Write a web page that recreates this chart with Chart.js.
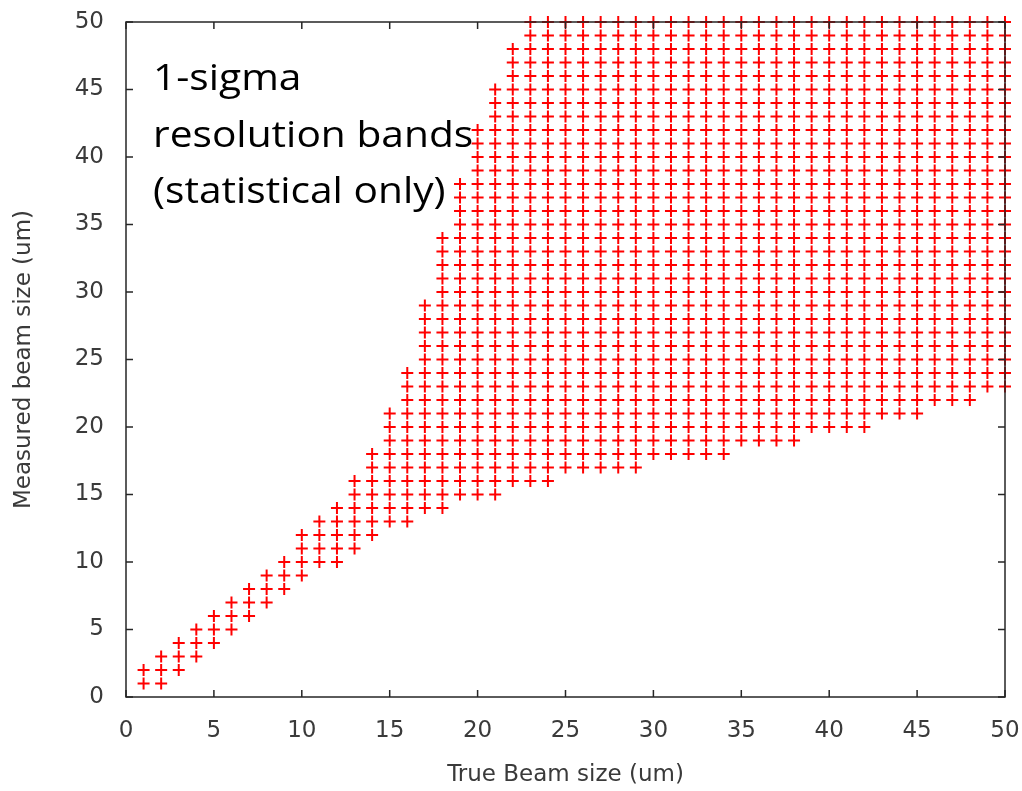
<!DOCTYPE html>
<html lang="en">
<head>
    <meta charset="UTF-8">
    <title>1-sigma resolution bands</title>
    <script src="https://cdn.jsdelivr.net/npm/chart.js"></script>
    <style>
        html, body { margin: 0; padding: 0; background: #fff; }
        #bandChart { display: block; }
    </style>
</head>
<body>
    <canvas id="bandChart" width="1022" height="791"></canvas>

    <script>
        // True beam size (um) for each column of crosses
        const trueSize = [1, 2, 3, 4, 5, 6, 7, 8, 9, 10,
                          11, 12, 13, 14, 15, 16, 17, 18, 19, 20,
                          21, 22, 23, 24, 25, 26, 27, 28, 29, 30,
                          31, 32, 33, 34, 35, 36, 37, 38, 39, 40,
                          41, 42, 43, 44, 45, 46, 47, 48, 49, 50];
        // lowest and highest measured size (um) in each column
        const bandLow  = [1, 1, 2, 3, 4, 5, 6, 7, 8, 9,
                          10, 10, 11, 12, 13, 13, 14, 14, 15, 15,
                          15, 16, 16, 16, 17, 17, 17, 17, 17, 18,
                          18, 18, 18, 18, 19, 19, 19, 19, 20, 20,
                          20, 20, 21, 21, 21, 22, 22, 22, 23, 23];
        const bandHigh = [2, 3, 4, 5, 6, 7, 8, 9, 10, 12,
                          13, 14, 16, 18, 21, 24, 29, 34, 38, 42,
                          45, 48, 50, 50, 50, 50, 50, 50, 50, 50,
                          50, 50, 50, 50, 50, 50, 50, 50, 50, 50,
                          50, 50, 50, 50, 50, 50, 50, 50, 50, 50];
        const axisTicks = [0, 5, 10, 15, 20, 25, 30, 35, 40, 45, 50];
        const noteLines = ['1-sigma', 'resolution bands', '(statistical only)'];

        // one cross per 1 um step inside each band
        const points = [];
        trueSize.forEach((x, i) => {
            for (let y = bandLow[i]; y <= bandHigh[i]; y++) {
                points.push({ x: x, y: y });
            }
        });

        const frameColor = '#262626';
        const textColor = '#3a3a3a';
        const axisFont = { family: 'DejaVu Sans', size: 23 };

        // gnuplot style frame with inward ticks on all four sides, plus the note
        const framePlugin = {
            id: 'frame',
            afterDraw(chart) {
                const ctx = chart.ctx;
                const a = chart.chartArea;
                const xs = chart.scales.x;
                const ys = chart.scales.y;
                const len = 7;
                ctx.save();
                ctx.strokeStyle = frameColor;
                ctx.lineWidth = 1.5;
                ctx.strokeRect(a.left, a.top, a.right - a.left, a.bottom - a.top);
                ctx.beginPath();
                axisTicks.forEach(v => {
                    const px = xs.getPixelForValue(v);
                    ctx.moveTo(px, a.bottom); ctx.lineTo(px, a.bottom - len);
                    ctx.moveTo(px, a.top); ctx.lineTo(px, a.top + len);
                    const py = ys.getPixelForValue(v);
                    ctx.moveTo(a.left, py); ctx.lineTo(a.left + len, py);
                    ctx.moveTo(a.right, py); ctx.lineTo(a.right - len, py);
                });
                ctx.stroke();

                // the note text is a bit wider than Open Sans, stretch it slightly
                ctx.translate(a.left + 27, a.top);
                ctx.scale(1.1, 1);
                ctx.fillStyle = '#000';
                ctx.font = '37px "Open Sans"';
                ctx.textAlign = 'left';
                ctx.textBaseline = 'alphabetic';
                noteLines.forEach((t, i) => {
                    ctx.fillText(t, 0, 68 + i * 56.5);
                });
                ctx.restore();
            }
        };

        new Chart(document.getElementById('bandChart'), {
            type: 'scatter',
            data: {
                datasets: [{
                    label: 'band',
                    data: points,
                    pointStyle: 'cross',
                    pointRadius: 6,
                    pointBorderWidth: 2,
                    borderColor: '#ff0000',
                    backgroundColor: '#ff0000',
                    clip: false
                }]
            },
            options: {
                responsive: false,
                animation: false,
                layout: { padding: { left: 0, right: 17, top: 22, bottom: 0 } },
                plugins: {
                    legend: { display: false },
                    tooltip: { enabled: false }
                },
                scales: {
                    x: {
                        type: 'linear',
                        min: 0,
                        max: 50,
                        afterFit: s => { s.height = 94; s.paddingLeft = 0; s.paddingRight = 0; },
                        afterBuildTicks: s => { s.ticks = axisTicks.map(v => ({ value: v })); },
                        grid: { display: false, drawTicks: false },
                        border: { display: false },
                        ticks: {
                            color: textColor,
                            font: axisFont,
                            padding: 20,
                            maxRotation: 0
                        },
                        title: {
                            display: true,
                            text: 'True Beam size (um)',
                            color: textColor,
                            font: axisFont,
                            padding: { top: 10, bottom: 2 }
                        }
                    },
                    y: {
                        type: 'linear',
                        min: 0,
                        max: 50,
                        afterFit: s => { s.width = 126; s.paddingTop = 0; s.paddingBottom = 0; },
                        afterBuildTicks: s => { s.ticks = axisTicks.map(v => ({ value: v })); },
                        grid: { display: false, drawTicks: false },
                        border: { display: false },
                        ticks: {
                            color: textColor,
                            font: axisFont,
                            padding: 22
                        },
                        title: {
                            display: true,
                            text: 'Measured beam size (um)',
                            color: textColor,
                            font: axisFont,
                            padding: { top: 10, bottom: 0 }
                        }
                    }
                }
            },
            plugins: [framePlugin]
        });
    </script>
</body>
</html>
